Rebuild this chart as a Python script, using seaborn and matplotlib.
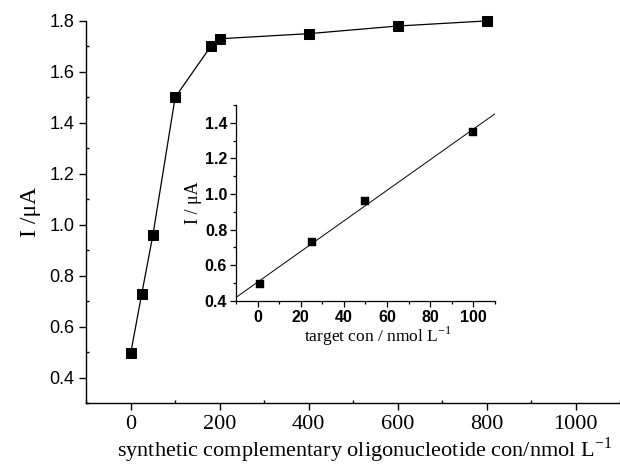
import numpy as np
import pandas as pd
import matplotlib
matplotlib.use("Agg")
import matplotlib.pyplot as plt
from matplotlib.ticker import MultipleLocator
import seaborn as sns

# Main curve
main_conc = [0, 25, 50, 100, 180, 200, 400, 600, 800]
main_current = [0.495, 0.73, 0.96, 1.50, 1.70, 1.73, 1.75, 1.78, 1.80]

# Inset calibration
inset_conc = [1, 25, 50, 100]
inset_current = [0.495, 0.73, 0.96, 1.35]

sns.set_theme(style="ticks")
plt.rcParams['font.family'] = ['Liberation Sans', 'DejaVu Sans']
plt.rcParams['axes.linewidth'] = 1.0

fig = plt.figure(figsize=(6.2, 4.65), dpi=100)
ax = fig.add_axes([0.139, 0.133, 0.861, 0.822])

df_main = pd.DataFrame({"x": main_conc, "y": main_current})
sns.lineplot(data=df_main, x="x", y="y", ax=ax, color="black", linewidth=0.9,
             marker="s", markersize=7, markeredgecolor="black",
             markerfacecolor="black", estimator=None, sort=False)
for ln in ax.lines:
    ln.set_clip_on(False)

ax.set_xlim(-100, 1100)
ax.set_ylim(0.3, 1.8)
ax.xaxis.set_major_locator(MultipleLocator(200))
ax.xaxis.set_minor_locator(MultipleLocator(100))
ax.set_yticks([0.4, 0.6, 0.8, 1.0, 1.2, 1.4, 1.6, 1.8])
ax.yaxis.set_minor_locator(MultipleLocator(0.1))
ax.tick_params(axis='both', which='major', direction='out', length=5, width=1, colors='black')
ax.tick_params(axis='both', which='minor', direction='in', length=2, width=1, colors='black')
for lab in ax.get_yticklabels():
    lab.set_fontfamily(['Liberation Sans'])
    lab.set_fontsize(13)
for lab in ax.get_xticklabels():
    lab.set_fontfamily(['Liberation Serif'])
    lab.set_fontsize(16)
ax.set_xlabel("synthetic complementary oligonucleotide con/nmol L$^{\\mathregular{-1}}$",
              fontfamily=['Liberation Serif'], fontsize=16, color='black', labelpad=1)
ax.xaxis.set_label_coords(0.522, -0.085)
ax.xaxis.label.set_verticalalignment('top')
ax.set_ylabel("I /μA", fontfamily=['Liberation Serif'], fontsize=17, color='black', labelpad=6)
sns.despine(ax=ax)
for s in ['left', 'bottom']:
    ax.spines[s].set_color('black')

# Inset
axi = fig.add_axes([0.381, 0.353, 0.417, 0.421])
axi.set_xlim(-10, 110)
axi.set_ylim(0.4, 1.5)
df_in = pd.DataFrame({"x": inset_conc, "y": inset_current})
sns.regplot(data=df_in, x="x", y="y", ax=axi, ci=None, truncate=False,
            marker="s", color="black",
            scatter_kws={"s": 26, "facecolor": "black", "edgecolor": "black",
                         "linewidths": 0.3, "alpha": 1.0},
            line_kws={"linewidth": 0.7, "color": "black"})
axi.set_xlim(-10, 110)
axi.set_ylim(0.4, 1.5)
axi.xaxis.set_major_locator(MultipleLocator(20))
axi.xaxis.set_minor_locator(MultipleLocator(10))
axi.set_yticks([0.4, 0.6, 0.8, 1.0, 1.2, 1.4])
axi.yaxis.set_minor_locator(MultipleLocator(0.1))
axi.tick_params(axis='both', which='major', direction='out', length=4, width=0.9, colors='black',
                labelsize=11.5, pad=2.5)
axi.tick_params(axis='both', which='minor', direction='out', length=2.5, width=0.9, colors='black')
for lab in axi.get_xticklabels() + axi.get_yticklabels():
    lab.set_fontweight('bold')
    lab.set_fontfamily(['Liberation Sans'])
axi.set_xlabel("target con / nmol L$^{\\mathregular{-1}}$", fontfamily=['Liberation Serif'],
               fontsize=12.5, color='black', labelpad=1)
axi.xaxis.set_label_coords(0.548, -0.12)
axi.xaxis.label.set_verticalalignment('top')
axi.set_ylabel("I / μA", fontfamily=['Liberation Serif'], fontsize=13, color='black', labelpad=2)
sns.despine(ax=axi)
for s in ['left', 'bottom']:
    axi.spines[s].set_color('black')
    axi.spines[s].set_linewidth(0.9)
axi.patch.set_alpha(0)

fig.savefig("out.png", dpi=100)
